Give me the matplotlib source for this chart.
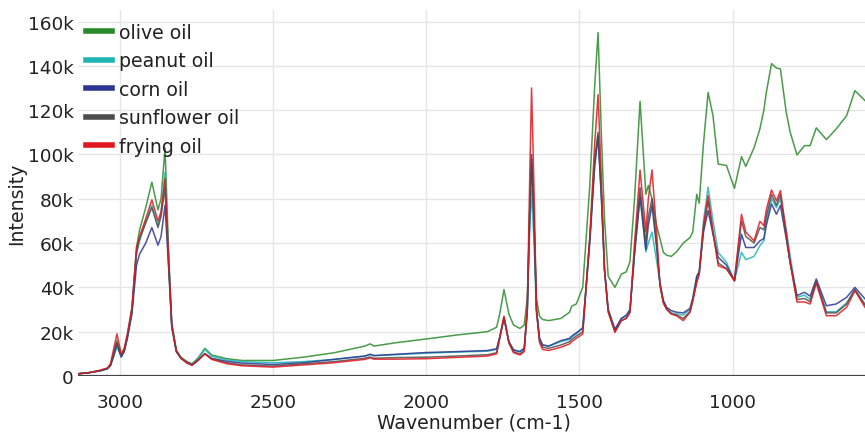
import matplotlib
matplotlib.use("Agg")
import matplotlib.pyplot as plt
from matplotlib.lines import Line2D
from matplotlib.ticker import FuncFormatter

# ---------------- data (intensities in thousands) -------------
wavenumber = [3136, 3100, 3064, 3040, 3030, 3020, 3009, 2995, 2985, 2975,
              2960, 2945, 2935, 2915, 2895, 2875, 2865, 2852, 2840, 2830,
              2815, 2800, 2780, 2764, 2745, 2722, 2700, 2650, 2600, 2500,
              2400, 2300, 2200, 2183, 2170, 2100, 2000, 1900, 1800, 1770,
              1760, 1746, 1730, 1715, 1694, 1680, 1670, 1662, 1656, 1648,
              1640, 1630, 1620, 1600, 1560, 1532, 1525, 1510, 1489, 1466,
              1450, 1439, 1428, 1418, 1406, 1384, 1363, 1347, 1335, 1320,
              1302, 1283, 1275, 1263, 1248, 1237, 1226, 1215, 1200, 1183,
              1161, 1139, 1130, 1117, 1109, 1095, 1080, 1064, 1047, 1020,
              994, 971, 957, 930, 911, 898, 890, 873, 857, 844,
              825, 812, 790, 765, 747, 727, 694, 662, 628, 601,
              568]

olive_oil = [1.0, 1.5, 2.5, 3.5, 5.0, 10.0, 16.0, 9.5, 12.0, 18.0,
             30.0, 58.0, 66.0, 76.0, 87.5, 75.0, 80.0, 103.0, 55.0, 24.0,
             11.5, 8.5, 6.5, 5.5, 8.0, 12.5, 9.5, 7.8, 7.0, 7.0,
             8.5, 10.5, 13.5, 14.5, 13.5, 15.0, 16.7, 18.5, 20.0, 22.0,
             28.0, 39.0, 28.0, 23.0, 21.5, 23.0, 35.0, 70.0, 98.0, 70.0,
             35.0, 27.0, 25.5, 25.0, 26.0, 28.8, 31.5, 32.5, 40.0, 86.0,
             131.0, 155.0, 108.0, 71.0, 45.0, 40.0, 46.0, 47.0, 51.5, 80.0,
             124.0, 82.0, 86.0, 80.0, 68.0, 62.0, 55.8, 54.5, 54.0, 56.0,
             60.0, 62.5, 65.0, 82.0, 78.0, 105.0, 128.0, 117.5, 95.7, 95.0,
             84.7, 99.0, 94.6, 103.0, 111.5, 120.0, 128.0, 141.0, 139.0, 138.6,
             119.0, 110.0, 99.8, 104.0, 104.0, 112.0, 106.7, 111.5, 117.5, 128.8,
             124.3]

peanut_oil = [1.0, 1.5, 2.3, 3.2, 4.5, 8.5, 13.0, 9.0, 11.5, 17.0,
              29.0, 55.0, 61.0, 70.0, 77.0, 68.0, 74.0, 92.0, 52.0, 23.0,
              11.0, 8.0, 6.0, 5.2, 7.5, 12.0, 9.0, 7.2, 6.5, 6.0,
              6.5, 7.5, 9.0, 9.7, 9.2, 9.6, 10.3, 10.8, 11.2, 12.0,
              17.5, 25.5, 15.5, 11.8, 11.0, 12.5, 28.0, 65.0, 84.0, 60.0,
              28.0, 17.0, 14.0, 13.5, 15.5, 16.5, 17.5, 19.0, 22.0, 62.0,
              95.0, 108.0, 80.0, 48.0, 30.0, 21.0, 26.0, 27.0, 29.5, 55.0,
              82.0, 56.0, 60.0, 65.0, 52.0, 42.0, 34.0, 30.5, 28.5, 28.0,
              27.5, 30.0, 35.0, 45.0, 47.0, 70.0, 85.2, 70.0, 55.8, 51.3,
              43.0, 55.8, 52.5, 54.0, 58.8, 61.0, 70.0, 80.0, 76.0, 80.0,
              66.0, 54.0, 35.5, 36.5, 34.5, 43.0, 29.0, 29.0, 33.0, 39.0,
              32.5]

corn_oil = [1.0, 1.5, 2.3, 3.3, 4.8, 9.0, 14.5, 8.5, 11.0, 17.0,
            28.0, 50.0, 55.0, 60.0, 67.0, 59.0, 63.0, 77.0, 48.0, 22.0,
            11.0, 8.0, 6.0, 5.0, 7.0, 10.2, 8.0, 6.6, 5.8, 5.2,
            6.0, 7.5, 9.0, 9.8, 9.2, 9.8, 10.6, 11.0, 11.5, 12.3,
            17.5, 26.5, 15.5, 11.8, 11.0, 12.5, 30.0, 75.0, 100.0, 70.0,
            30.0, 17.0, 14.0, 13.5, 16.0, 17.0, 18.0, 19.5, 21.5, 60.0,
            95.0, 108.5, 80.0, 48.0, 30.0, 21.0, 26.0, 27.5, 30.0, 55.0,
            80.7, 57.0, 68.0, 77.0, 58.0, 42.0, 34.0, 31.0, 29.5, 28.8,
            28.5, 30.5, 35.0, 45.0, 47.0, 65.0, 74.6, 64.0, 53.6, 50.0,
            43.0, 64.0, 58.0, 58.0, 61.0, 62.0, 68.0, 77.7, 73.0, 77.0,
            62.0, 51.0, 36.3, 37.8, 36.0, 43.8, 31.7, 32.5, 35.5, 40.0,
            34.8]

sunflower_oil = [1.0, 1.5, 2.4, 3.4, 5.0, 10.0, 15.0, 9.0, 11.5, 18.0,
                 30.0, 56.0, 62.0, 69.0, 76.0, 67.0, 72.0, 85.0, 50.0, 22.0,
                 11.0, 8.0, 6.0, 5.0, 7.0, 10.0, 7.8, 6.0, 5.0, 4.5,
                 5.5, 6.5, 8.0, 8.6, 8.0, 8.3, 8.5, 9.0, 9.6, 10.5,
                 17.0, 26.5, 15.0, 11.0, 10.0, 11.5, 30.0, 75.0, 98.0, 70.0,
                 30.0, 16.0, 13.0, 12.5, 14.0, 15.5, 16.5, 18.0, 20.0, 62.0,
                 98.0, 110.0, 82.0, 48.0, 29.0, 20.0, 25.0, 26.0, 28.5, 57.0,
                 85.0, 60.0, 72.0, 80.0, 60.0, 41.0, 33.0, 30.0, 28.0, 27.5,
                 26.0, 29.0, 34.0, 43.0, 46.0, 66.0, 79.0, 65.0, 51.0, 48.5,
                 43.0, 70.0, 63.0, 60.0, 67.0, 66.0, 72.0, 82.0, 77.0, 82.0,
                 63.0, 51.0, 34.5, 35.0, 33.5, 42.5, 28.5, 28.5, 32.5, 39.0,
                 32.0]

frying_oil = [1.0, 1.5, 2.6, 3.6, 5.5, 12.0, 19.0, 10.0, 12.5, 19.0,
              31.0, 58.0, 63.0, 71.0, 79.5, 70.0, 74.0, 89.0, 52.0, 23.0,
              11.5, 8.0, 5.8, 4.8, 7.0, 10.0, 7.5, 5.5, 4.6, 4.0,
              5.0, 6.0, 7.5, 8.2, 7.6, 7.6, 7.8, 8.4, 9.0, 10.0,
              17.0, 27.0, 15.0, 10.5, 9.5, 11.0, 30.0, 90.0, 130.0, 85.0,
              30.0, 15.0, 12.0, 11.5, 13.0, 14.5, 15.5, 17.0, 19.0, 63.0,
              105.0, 127.0, 88.0, 48.0, 29.0, 19.7, 25.0, 26.0, 28.8, 60.0,
              93.0, 65.0, 80.0, 93.0, 65.0, 40.8, 33.0, 30.2, 28.0, 27.2,
              25.0, 28.8, 34.0, 42.0, 46.0, 68.0, 81.4, 65.0, 49.8, 48.3,
              43.0, 73.0, 65.0, 61.0, 69.8, 67.9, 75.0, 84.0, 79.0, 83.7,
              65.0, 51.0, 33.4, 33.4, 32.5, 42.0, 27.2, 27.2, 31.0, 38.5,
              31.0]

series_names = ["olive oil", "peanut oil", "corn oil", "sunflower oil", "frying oil"]
series_values = [olive_oil, peanut_oil, corn_oil, sunflower_oil, frying_oil]
series_colors = ["#2a8a2a", "#1fb5b5", "#2b3592", "#4d4d4d", "#e0161e"]

y_ticks = [0, 20000, 40000, 60000, 80000, 100000, 120000, 140000, 160000]
x_ticks = [3000, 2500, 2000, 1500, 1000]

for s in series_values:
    assert len(s) == len(wavenumber)

# ---------------- figure -------------
W, H = 865, 435
fig = plt.figure(figsize=(W / 100, H / 100), dpi=100)
plt.rcParams['font.family'] = ['DejaVu Sans']
ax = fig.add_axes([78 / W, (H - 377) / H, (W - 78) / W, (377 - 11) / H])

for name, vals, col in zip(series_names, series_values, series_colors):
    ax.plot(wavenumber, [v * 1000 for v in vals], color=col, lw=1.1, alpha=0.85,
            solid_joinstyle='round')

ax.set_xlim(3136, 568)
ax.set_ylim(0, 165200)
ax.set_yticks(y_ticks)
ax.set_xticks(x_ticks)
ax.yaxis.set_major_formatter(FuncFormatter(lambda v, p: "0" if v == 0 else f"{int(v/1000)}k"))
ax.grid(True, color="#e6e6e6", lw=1.0)
ax.set_axisbelow(True)
for sp in ax.spines.values():
    sp.set_visible(False)
ax.axhline(0, color="#444444", lw=1.6, zorder=1)
ax.tick_params(axis='both', length=0, labelsize=13.3, colors="#222222")
ax.tick_params(axis='x', pad=12)
ax.tick_params(axis='y', pad=3)

fig.text(474 / W, 1 - 423 / H, "Wavenumber (cm-1)", ha='center', va='center',
         fontsize=13.6, color="#222222")
fig.text(17 / W, 1 - 204 / H, "Intensity", ha='center', va='center', rotation=90,
         fontsize=13.6, color="#222222")

handles = [Line2D([0], [0], color=c, lw=4) for c in series_colors]
leg = fig.legend(handles, series_names, loc='upper left',
                 bbox_to_anchor=(86 / W, 1 - 24 / H), frameon=False,
                 fontsize=13.6, handlelength=1.4, handletextpad=0.35,
                 labelspacing=0.5, borderpad=0, borderaxespad=0)
for t in leg.get_texts():
    t.set_color("#222222")

fig.savefig("out.png", dpi=100)
